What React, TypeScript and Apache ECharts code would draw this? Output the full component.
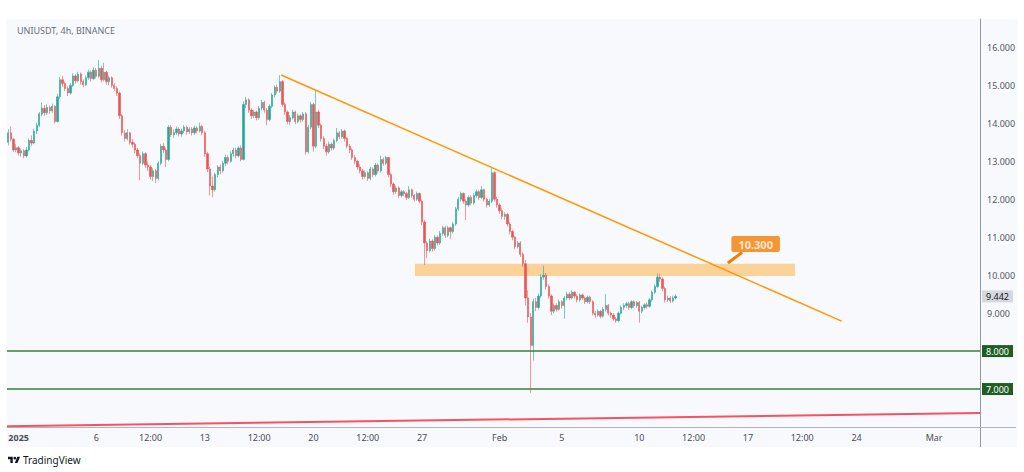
import React, { useEffect, useRef } from "react";
import * as echarts from "echarts";

const chartTitle = "UNIUSDT, 4h, BINANCE";
const firstCandleHour = -16; // hours relative to 2025-01-01 00:00
const candleStepHours = 4;

// [open, close, low, high]
const candles: number[][] = [
  [13.50,13.75,13.42,13.85],[13.75,13.58,13.52,13.92],[13.58,13.30,13.25,13.62],[13.30,13.36,13.24,13.45],
  [13.36,13.22,13.15,13.40],[13.22,13.28,13.12,13.34],[13.28,13.14,13.08,13.32],[13.14,13.30,13.10,13.38],
  [13.30,13.55,13.26,13.60],[13.55,13.48,13.40,13.68],[13.48,13.80,13.45,13.86],[13.80,13.95,13.72,14.02],
  [13.95,14.25,13.90,14.30],[14.25,14.40,14.18,14.55],[14.40,14.28,14.20,14.48],[14.28,14.42,14.22,14.50],
  [14.42,14.33,14.25,14.47],[14.33,14.45,14.28,14.52],[14.45,14.05,14.00,14.48],[14.05,14.70,14.02,14.78],
  [14.70,15.15,14.65,15.22],[15.15,15.05,14.95,15.25],[15.05,14.92,14.85,15.10],[14.92,14.80,14.72,14.98],
  [14.80,15.00,14.76,15.06],[15.00,15.25,14.96,15.32],[15.25,15.12,15.05,15.30],[15.12,15.30,15.08,15.36],
  [15.30,15.10,15.02,15.34],[15.10,15.02,14.95,15.16],[15.02,15.20,14.98,15.26],[15.20,15.35,15.15,15.42],
  [15.35,15.18,15.10,15.40],[15.18,15.40,15.14,15.48],[15.40,15.24,15.18,15.46],[15.24,15.45,15.20,15.67],
  [15.45,15.15,15.08,15.52],[15.15,15.35,15.10,15.60],[15.35,15.10,15.02,15.38],[15.10,15.20,15.00,15.26],
  [15.20,15.00,14.94,15.24],[15.00,14.92,14.85,15.06],[14.92,14.80,14.72,14.98],[14.80,14.20,14.12,14.84],
  [14.20,13.75,13.68,14.25],[13.75,13.60,13.52,13.82],[13.60,13.75,13.55,13.85],[13.75,13.50,13.44,13.78],
  [13.50,13.45,13.36,13.58],[13.45,13.30,13.22,13.50],[13.30,13.15,13.08,13.35],[13.15,12.95,12.50,13.20],
  [12.95,13.20,12.90,13.26],[13.20,12.90,12.82,13.24],[12.90,12.85,12.74,13.00],[12.85,12.60,12.52,12.90],
  [12.60,12.75,12.48,12.82],[12.75,12.55,12.43,12.80],[12.55,12.95,12.50,13.00],[12.95,13.40,12.90,13.46],
  [13.40,13.30,13.22,13.48],[13.30,13.05,12.85,13.36],[13.05,13.90,13.00,13.95],[13.90,13.70,13.64,13.96],
  [13.70,13.76,13.62,13.84],[13.76,13.85,13.70,13.92],[13.85,13.72,13.66,13.90],[13.72,13.80,13.65,13.86],
  [13.80,13.90,13.74,13.96],[13.90,13.78,13.70,13.94],[13.78,13.85,13.72,13.90],[13.85,13.75,13.68,13.90],
  [13.75,13.88,13.70,13.94],[13.88,13.80,13.74,13.92],[13.80,13.92,13.76,14.02],[13.92,13.75,13.68,13.96],
  [13.75,13.20,13.12,13.80],[13.20,12.80,12.72,13.25],[12.80,12.35,12.10,12.85],[12.35,12.25,12.05,12.60],
  [12.25,12.65,12.20,12.70],[12.65,12.85,12.58,12.90],[12.85,12.75,12.66,12.92],[12.75,12.95,12.70,13.02],
  [12.95,13.10,12.88,13.18],[13.10,13.00,12.92,13.16],[13.00,13.20,12.96,13.26],[13.20,13.30,13.12,13.36],
  [13.30,13.15,13.08,13.36],[13.15,13.35,13.10,13.40],[13.35,13.05,13.00,13.42],[13.05,14.50,13.02,14.58],
  [14.50,14.62,14.40,14.70],[14.62,14.35,14.28,14.66],[14.35,14.20,14.12,14.40],[14.20,14.30,14.14,14.36],
  [14.30,14.15,14.08,14.34],[14.15,14.40,14.10,14.46],[14.40,14.55,14.34,14.62],[14.55,14.35,14.28,14.60],
  [14.35,14.10,13.95,14.40],[14.10,14.45,14.05,14.50],[14.45,14.75,14.40,14.80],[14.75,14.95,14.68,15.00],
  [14.95,14.85,14.78,15.02],[14.85,15.10,14.80,15.27],[15.10,14.50,14.44,15.14],[14.50,14.30,14.22,14.55],
  [14.30,14.05,13.98,14.34],[14.05,14.15,13.95,14.22],[14.15,14.30,14.10,14.36],[14.30,14.05,13.98,14.34],
  [14.05,14.20,14.00,14.26],[14.20,14.10,14.02,14.24],[14.10,14.25,14.05,14.30],[14.25,13.25,13.18,14.30],
  [13.25,13.90,13.20,13.96],[13.90,14.50,13.85,14.56],[14.50,13.40,13.25,14.54],[13.40,14.30,13.35,14.88],
  [14.30,13.95,13.88,14.36],[13.95,13.60,13.52,14.00],[13.60,13.40,13.32,13.66],[13.40,13.25,13.15,13.46],
  [13.25,13.45,13.20,13.52],[13.45,13.35,13.28,13.50],[13.35,13.55,13.30,13.60],[13.55,13.75,13.50,13.88],
  [13.75,13.65,13.58,13.80],[13.65,13.80,13.60,13.85],[13.80,13.60,13.52,13.84],[13.60,13.40,13.34,13.64],
  [13.40,13.30,13.22,13.46],[13.30,13.10,13.04,13.34],[13.10,13.00,12.92,13.16],[13.00,12.85,12.78,13.04],
  [12.85,12.75,12.68,12.92],[12.75,12.60,12.52,12.80],[12.60,12.70,12.55,12.76],[12.70,12.55,12.48,12.74],
  [12.55,12.80,12.50,12.86],[12.80,12.65,12.58,12.84],[12.65,12.90,12.60,12.96],[12.90,12.75,12.68,12.94],
  [12.75,13.05,12.70,13.15],[13.05,12.95,12.88,13.10],[12.95,13.10,12.90,13.14],[13.10,12.65,12.58,13.12],
  [12.65,12.40,12.32,12.70],[12.40,12.20,12.12,12.44],[12.20,12.30,12.14,12.36],[12.30,12.10,12.04,12.34],
  [12.10,12.20,12.05,12.25],[12.20,12.15,12.08,12.24],[12.15,12.05,11.98,12.20],[12.05,12.25,12.00,12.35],
  [12.25,12.10,12.04,12.28],[12.10,12.00,11.94,12.14],[12.00,12.15,11.96,12.20],[12.15,11.95,11.90,12.18],
  [11.95,11.40,11.32,12.00],[11.40,10.85,10.27,11.45],[10.85,10.65,10.45,10.90],[10.65,10.90,10.60,10.96],
  [10.90,10.70,10.62,10.95],[10.70,11.00,10.65,11.06],[11.00,10.85,10.78,11.05],[10.85,11.10,10.80,11.16],
  [11.10,11.25,11.04,11.30],[11.25,11.05,10.98,11.30],[11.05,11.25,11.00,11.30],[11.25,11.15,10.95,11.28],
  [11.15,11.35,11.10,11.40],[11.35,11.75,11.30,11.80],[11.75,12.00,11.70,12.06],[12.00,12.15,11.94,12.20],
  [12.15,11.95,11.88,12.18],[11.95,11.85,11.45,12.00],[11.85,12.05,11.80,12.10],[12.05,11.90,11.84,12.10],
  [11.90,12.10,11.86,12.16],[12.10,12.20,12.04,12.26],[12.20,12.05,11.98,12.24],[12.05,12.25,12.00,12.35],
  [12.25,12.00,11.94,12.28],[12.00,11.85,11.78,12.04],[11.85,11.95,11.80,12.00],[11.95,12.70,11.90,12.82],
  [12.70,12.00,11.94,12.74],[12.00,11.85,11.78,12.06],[11.85,11.70,11.62,11.90],[11.70,11.55,11.48,11.76],
  [11.55,11.60,11.46,11.66],[11.60,11.35,11.28,11.64],[11.35,11.15,11.08,11.40],[11.15,11.00,10.92,11.20],
  [11.00,10.75,10.68,11.04],[10.75,10.85,10.70,10.90],[10.85,10.55,10.48,10.90],[10.55,10.30,10.22,10.60],
  [10.30,9.40,9.20,10.40],[9.40,8.90,8.75,9.60],[8.90,8.15,6.90,9.00],[8.15,9.30,7.75,9.38],
  [9.30,9.15,9.05,9.40],[9.15,9.45,9.10,9.52],[9.45,9.95,9.40,10.02],[9.95,10.00,9.88,10.25],
  [10.00,9.70,9.62,10.06],[9.70,9.45,9.38,9.76],[9.45,9.05,8.95,9.50],[9.05,9.20,9.00,9.26],
  [9.20,9.10,9.04,9.26],[9.10,9.30,9.06,9.36],[9.30,9.20,9.12,9.34],[9.20,9.40,8.85,9.45],
  [9.40,9.50,9.34,9.56],[9.50,9.40,9.34,9.55],[9.40,9.55,9.36,9.60],[9.55,9.45,9.38,9.58],
  [9.45,9.35,9.28,9.50],[9.35,9.48,9.30,9.52],[9.48,9.40,9.34,9.52],[9.40,9.30,9.24,9.44],
  [9.30,9.42,9.26,9.46],[9.42,9.30,9.24,9.46],[9.30,9.00,8.94,9.34],[9.00,8.95,8.88,9.06],
  [8.95,9.05,8.90,9.10],[9.05,8.92,8.86,9.08],[8.92,9.10,8.88,9.16],[9.10,9.20,9.04,9.50],
  [9.20,9.00,8.94,9.24],[9.00,8.95,8.88,9.04],[8.95,8.85,8.80,9.00],[8.85,8.80,8.75,8.90],
  [8.80,9.00,8.76,9.04],[9.00,9.15,8.96,9.20],[9.15,9.20,9.08,9.26],[9.20,9.25,9.14,9.30],
  [9.25,9.15,9.08,9.30],[9.15,9.30,9.10,9.34],[9.30,9.20,9.14,9.34],[9.20,9.28,9.14,9.32],
  [9.28,9.05,8.75,9.32],[9.05,9.15,9.00,9.20],[9.15,9.22,9.10,9.26],[9.22,9.18,9.12,9.28],
  [9.18,9.35,9.14,9.40],[9.35,9.55,9.30,9.60],[9.55,9.70,9.50,9.76],[9.70,9.95,9.66,10.05],
  [9.95,9.90,9.82,10.02],[9.90,9.65,9.58,9.94],[9.65,9.35,9.28,9.70],[9.35,9.40,9.30,9.46],
  [9.40,9.32,9.26,9.45],[9.32,9.40,9.28,9.46],[9.40,9.442,9.36,9.50],
];

const lastPrice = 9.442;
const supportLevels = [8, 7];
const zoneHours = [613, 1201];
const zonePrices = [9.98, 10.3];
const trendHours = [406, 1273];
const trendPrices = [15.275, 8.79];
const baseLineHours = [-18, 1487];
const baseLinePrices = [6.02, 6.37];
const calloutText = "10.300";
const calloutPointerHours = [1097, 1119];
const calloutPointerPrices = [10.32, 10.6];
const calloutBoxHour = 1140;
const calloutBoxPrice = 10.82;
const tickHours = [0, 120, 204, 288, 372, 456, 540, 624, 744, 840, 960, 1044, 1128, 1212, 1296, 1416];
const tickLabels = ["2025", "6", "12:00", "13", "12:00", "20", "12:00", "27", "Feb", "5", "10", "12:00", "17", "12:00", "24", "Mar"];
const hiddenPriceLabels = [6, 7, 8];

const UP = "#26a69a";
const DOWN = "#ef5350";
const FONT = "'Noto Sans', 'DejaVu Sans', sans-serif";

echarts.graphic.registerShape(
  "tvlogo",
  echarts.graphic.extendPath(
    "M14 22H7V11H0V4h14v18zM28 22h-8l7.5-18h8L28 22zM20 12a4 4 0 1 0 0-8a4 4 0 1 0 0 8z",
    {}
  ) as any
);

export default function App() {
  const ref = useRef<HTMLDivElement>(null);
  useEffect(() => {
    if (!ref.current) return;
    const chart = echarts.init(ref.current, null, { renderer: "svg" });
    const candleData = candles.map((c, i) => [firstCandleHour + i * candleStepHours, c[0], c[1], c[2], c[3]]);
    const badgeLabel = (text: string, bg: string, fg: string) => ({
      show: true,
      position: "end",
      distance: 2,
      formatter: text,
      backgroundColor: bg,
      color: fg,
      fontSize: 9,
      padding: [2, 4, 1, 4],
      fontFamily: FONT,
    });
    const option: any = {
      animation: false,
      backgroundColor: "#f8f9fd",
      textStyle: { fontFamily: FONT },
      title: {
        text: chartTitle,
        left: 12,
        top: 21,
        textStyle: { fontSize: 9, fontWeight: "normal", color: "#6a6d78", fontFamily: FONT },
      },
      grid: { left: 7, right: 44, top: 19, bottom: 45 },
      xAxis: {
        type: "value",
        min: -18,
        max: 1487,
        interval: 6,
        axisLine: { show: true, onZero: false, lineStyle: { color: "#b2b5be", width: 1 } },
        axisTick: { show: false },
        splitLine: { show: false },
        axisLabel: {
          margin: 6,
          fontSize: 9,
          color: "#4a4d57",
          fontFamily: FONT,
          formatter: (v: number) => {
            const k = tickHours.indexOf(v);
            if (k < 0) return "";
            return k === 0 ? "{b|" + tickLabels[k] + "}" : tickLabels[k];
          },
          rich: { b: { fontWeight: "bold", fontSize: 9, color: "#4a4d57" } },
        },
      },
      yAxis: {
        type: "value",
        position: "right",
        min: 6,
        max: 16.75,
        interval: 1,
        axisLine: { show: true, onZero: false, lineStyle: { color: "#9598a1", width: 1 } },
        axisTick: { show: false },
        splitLine: { show: false },
        axisLabel: {
          margin: 7,
          fontSize: 9,
          color: "#555862",
          fontFamily: FONT,
          formatter: (v: number) =>
            !Number.isInteger(v) || hiddenPriceLabels.indexOf(v) >= 0 ? "" : v.toFixed(3),
        },
      },
      series: [
        {
          type: "line",
          data: baseLineHours.map((h, i) => [h, baseLinePrices[i]]),
          symbol: "none",
          lineStyle: { color: "#f7525f", width: 2 },
          silent: true,
          z: 3,
        },
        {
          type: "candlestick",
          data: candleData,
          encode: { x: 0, y: [1, 2, 3, 4] },
          barWidth: 1.8,
          itemStyle: { color: UP, color0: DOWN, borderColor: UP, borderColor0: DOWN, borderWidth: 0.6 },
          z: 4,
          markArea: {
            silent: true,
            itemStyle: { color: "rgba(255,152,0,0.4)" },
            data: [[{ xAxis: zoneHours[0], yAxis: zonePrices[0] }, { xAxis: zoneHours[1], yAxis: zonePrices[1] }]],
          },
          markLine: {
            silent: true,
            symbol: ["none", "none"],
            data: [
              ...supportLevels.map((lv) => ({
                yAxis: lv,
                lineStyle: { color: "#3b7d3d", width: 1.5, type: "solid" },
                label: badgeLabel(lv.toFixed(3), "#1e5e22", "#ffffff"),
              })),
              {
                yAxis: lastPrice,
                lineStyle: { color: "rgba(0,0,0,0)", width: 0 },
                label: badgeLabel(lastPrice.toFixed(3), "#d6d8de", "#131722"),
              },
            ],
          },
        },
        {
          type: "line",
          data: trendHours.map((h, i) => [h, trendPrices[i]]),
          symbol: "none",
          lineStyle: { color: "#ff9800", width: 1.5 },
          silent: true,
          z: 5,
        },
        {
          type: "line",
          data: calloutPointerHours.map((h, i) => [h, calloutPointerPrices[i]]),
          symbol: "none",
          lineStyle: { color: "#f57c00", width: 3 },
          silent: true,
          z: 6,
        },
        {
          type: "scatter",
          data: [[calloutBoxHour, calloutBoxPrice]],
          symbolSize: 0,
          silent: true,
          z: 7,
          label: {
            show: true,
            position: "inside",
            formatter: calloutText,
            backgroundColor: "#f57c00",
            color: "#ffffff",
            fontWeight: "bold",
            fontSize: 11,
            padding: [3, 7, 2, 7],
            borderRadius: 2,
            fontFamily: FONT,
          },
        },
      ],
      graphic: [
        { type: "rect", shape: { x: 0, y: 0, width: 1024, height: 19 }, style: { fill: "#ffffff" }, silent: true },
        { type: "rect", shape: { x: 0, y: 447, width: 1024, height: 25 }, style: { fill: "#ffffff" }, silent: true },
        { type: "rect", shape: { x: 0, y: 0, width: 7, height: 472 }, style: { fill: "#ffffff" }, silent: true },
        { type: "rect", shape: { x: 1017, y: 0, width: 7, height: 472 }, style: { fill: "#ffffff" }, silent: true },
        { type: "line", shape: { x1: 980.5, y1: 427, x2: 980.5, y2: 447 }, style: { stroke: "#9598a1", lineWidth: 1 }, silent: true },
        { type: "line", shape: { x1: 980, y1: 427.5, x2: 1016, y2: 427.5 }, style: { stroke: "#b2b5be", lineWidth: 1 }, silent: true },
        { type: "tvlogo", x: 8, y: 455.5, scaleX: 0.34, scaleY: 0.34, style: { fill: "#131722" }, silent: true },
        {
          type: "text",
          x: 23,
          y: 460,
          style: { text: "TradingView", fontSize: 10, fill: "#131722", fontFamily: FONT, verticalAlign: "middle" },
          silent: true,
        },
      ],
    };
    chart.setOption(option);
    return () => chart.dispose();
  }, []);
  return <div ref={ref} style={{ position: "fixed", left: 0, top: 0, width: 1024, height: 472 }} />;
}
